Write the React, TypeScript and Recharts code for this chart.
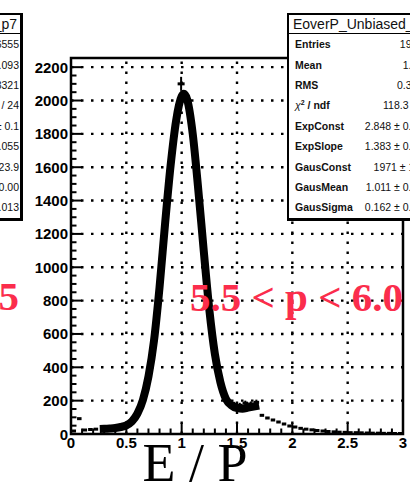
import React from 'react';
import { ComposedChart, Line, Scatter, XAxis, YAxis, ReferenceLine, ReferenceArea, ErrorBar } from 'recharts';

// axis ticks
const xMajor = [0, 0.5, 1, 1.5, 2, 2.5, 3];
const yMajor = [0, 200, 400, 600, 800, 1000, 1200, 1400, 1600, 1800, 2000, 2200];
const xTicks = Array.from({ length: 31 }, (_, i) => i / 10);
const yTicks = Array.from({ length: 45 }, (_, i) => i * 50);
const yMax = 2255;

// fit curve (gaus + exp)
const fitX = [0.26, 0.3, 0.35, 0.4, 0.45, 0.5, 0.55, 0.6, 0.65, 0.7, 0.75, 0.8, 0.85, 0.9, 0.95, 1.0, 1.02, 1.05, 1.1, 1.15, 1.2, 1.25, 1.3, 1.35, 1.4, 1.45, 1.5, 1.55, 1.6, 1.65, 1.7];
const fitY = [30, 31, 33, 36, 42, 52, 75, 122, 205, 345, 560, 880, 1260, 1610, 1880, 2025, 2040, 2005, 1800, 1466, 1095, 745, 480, 310, 210, 172, 155, 152, 158, 164, 170];

// histogram points outside the fit range
const lowX = [0.025, 0.075, 0.125, 0.175, 0.225];
const lowY = [18, 92, 24, 27, 29];
const tailX = [1.725, 1.775, 1.825, 1.875, 1.925, 1.975, 2.025, 2.075, 2.125, 2.175, 2.225, 2.275, 2.325, 2.375, 2.425, 2.475, 2.525, 2.575, 2.625, 2.675, 2.725, 2.775, 2.825, 2.875, 2.925, 2.975];
const tailY = [112, 96, 84, 72, 60, 48, 42, 34, 29, 25, 21, 18, 15, 13, 11, 10, 8, 8, 7, 6, 5, 5, 4, 4, 3, 3];

// points with visible error bars
const blobX = [1.425, 1.475, 1.525, 1.575, 1.625, 1.675];
const blobY = [192, 178, 172, 185, 180, 190];
const blobErr = [16, 15, 15, 15, 15, 16];
const peakX = [0.995];
const peakY = [2100];
const peakErr = [42];

// stats boxes
const statLabels = ['Entries', 'Mean', 'RMS', 'chi', 'ExpConst', 'ExpSlope', 'GausConst', 'GausMean', 'GausSigma'];
const rightValues = ['19655', '1.034', '0.3215', '118.3 / 27', '2.848 ± 0.054', '1.383 ± 0.031', '1971 ± 16.9', '1.011 ± 0.001', '0.162 ± 0.001'];
const leftValues = ['16555', '1.093', '0.3321', '101.7 / 24', '3.112 ± 0.1', '1.611 ± 0.055', '1523 ± 23.9', '1.008 ± 0.00', '0.159 ± 0.013'];

const fitData = fitX.map((x, i) => ({ x, y: fitY[i] }));
const lowData = lowX.map((x, i) => ({ x, y: lowY[i] }));
const tailData = tailX.map((x, i) => ({ x, y: tailY[i] }));
const blobData = blobX.map((x, i) => ({ x, y: blobY[i], err: blobErr[i] }));
const peakData = peakX.map((x, i) => ({ x, y: peakY[i], err: peakErr[i] }));

const sans = "'Liberation Sans', Arial, Helvetica, sans-serif";
const serif = "'Liberation Serif', 'Times New Roman', serif";
const red = '#fb2d4c';

const isMajor = (v: number, step: number) => Math.abs(v / step - Math.round(v / step)) < 1e-6;

const XTick = (props: any) => {
  const { x, y, payload } = props;
  const major = isMajor(payload.value, 0.5);
  return (
    <g>
      <line x1={x} x2={x} y1={y} y2={y - (major ? 11 : 5.5)} stroke="#000" strokeWidth={2} />
      {major && (
        <text x={x} y={y + 14} textAnchor="middle" fontSize={15} fontWeight="bold" fontFamily={sans} fill="#000">
          {String(payload.value)}
        </text>
      )}
    </g>
  );
};

const YTick = (props: any) => {
  const { x, y, payload } = props;
  const major = isMajor(payload.value, 200);
  return (
    <g>
      <line x1={x} x2={x + (major ? 11 : 5.5)} y1={y} y2={y} stroke="#000" strokeWidth={2} />
      {major && (
        <text x={x - 3} y={y + 5.5} textAnchor="end" fontSize={15} fontWeight="bold" fontFamily={sans} fill="#000">
          {String(payload.value)}
        </text>
      )}
    </g>
  );
};

const Dash = (w: number) => (props: any) => {
  const { cx, cy } = props;
  if (cx == null || cy == null) return <g />;
  return <rect x={cx - w / 2} y={cy - 1.5} width={w} height={3} fill="#000" />;
};

function StatBox({ left, width, title, values, align }: { left: number; width: number; title: string; values: string[]; align: 'left' | 'right' }) {
  return (
    <div
      style={{
        position: 'absolute',
        left,
        top: 13,
        width,
        height: 203,
        background: '#fff',
        borderStyle: 'solid',
        borderColor: '#000',
        borderWidth: '2px 3px 3px 2px',
        fontFamily: sans,
        color: '#111',
      }}
    >
      <div
        style={{
          height: 18,
          lineHeight: '18px',
          fontSize: 14,
          borderBottom: '1.5px solid #000',
          textAlign: align,
          paddingLeft: align === 'left' ? 4 : 0,
          paddingRight: align === 'right' ? 3 : 0,
          whiteSpace: 'nowrap',
        }}
      >
        {title}
      </div>
      {statLabels.map((lab, i) => (
        <div
          key={lab}
          style={{
            height: 20.4,
            display: 'flex',
            alignItems: 'center',
            justifyContent: 'space-between',
            padding: align === 'left' ? '0 10px 0 6px' : '0 1px 0 6px',
            fontSize: 10.5,
            whiteSpace: 'nowrap',
          }}
        >
          <span style={{ fontWeight: 'bold' }}>
            {lab === 'chi' ? (
              <>
                <i style={{ fontWeight: 'normal' }}>χ</i>
                <sup style={{ fontSize: 7, lineHeight: 0 }}>2</sup> / ndf
              </>
            ) : (
              lab
            )}
          </span>
          <span>{values[i]}</span>
        </div>
      ))}
    </div>
  );
}

export default function App() {
  return (
    <div style={{ position: 'absolute', left: 0, top: 0, width: 410, height: 491, overflow: 'hidden', background: '#fff' }}>
      <ComposedChart width={410} height={491} margin={{ top: 58, right: 7, bottom: 0, left: 0 }} style={{ fontFamily: sans }}>
        <XAxis
          type="number"
          dataKey="x"
          domain={[0, 3]}
          ticks={xTicks}
          interval={0}
          height={57}
          tickSize={0}
          tickMargin={0}
          axisLine={false}
          tick={<XTick />}
          allowDataOverflow
        />
        <YAxis
          type="number"
          dataKey="y"
          domain={[0, yMax]}
          ticks={yTicks}
          interval={0}
          width={71}
          tickSize={0}
          tickMargin={0}
          axisLine={false}
          tick={<YTick />}
          allowDataOverflow
        />
        {xMajor.slice(1, -1).map((v) => (
          <ReferenceLine key={'gx' + v} x={v} stroke="#000" strokeWidth={2.4} strokeDasharray="2.5 7.5" />
        ))}
        {yMajor.slice(1).map((v) => (
          <ReferenceLine key={'gy' + v} y={v} stroke="#000" strokeWidth={2.4} strokeDasharray="2.5 7.5" />
        ))}
        <Scatter data={lowData} shape={Dash(4.5)} isAnimationActive={false} />
        <Scatter data={tailData} shape={Dash(4.5)} isAnimationActive={false} />
        <Scatter data={blobData} shape={Dash(5.5)} isAnimationActive={false}>
          <ErrorBar dataKey="err" direction="y" width={0} stroke="#000" strokeWidth={2} isAnimationActive={false} />
        </Scatter>
        <Line
          data={fitData}
          dataKey="y"
          type="monotone"
          stroke="#000"
          strokeWidth={8}
          strokeLinejoin="round"
          dot={false}
          activeDot={false}
          isAnimationActive={false}
        />
        <Scatter data={peakData} shape={Dash(7)} isAnimationActive={false}>
          <ErrorBar dataKey="err" direction="y" width={0} stroke="#000" strokeWidth={2} isAnimationActive={false} />
        </Scatter>
        <ReferenceArea x1={0} x2={3} y1={0} y2={yMax} fill="none" stroke="#000" strokeWidth={2.5} />
      </ComposedChart>

      <svg width={410} height={491} style={{ position: 'absolute', left: 0, top: 0, pointerEvents: 'none' }}>
        <text x={19} y={310} textAnchor="end" fontFamily={serif} fontWeight="bold" fontSize={41} fill={red}>
          5.0 &lt; p &lt; 5.5
        </text>
        <text x={190} y={311} fontFamily={serif} fontWeight="bold" fontSize={41} fill={red}>
          5.5 &lt; p &lt; 6.0
        </text>
        <text x={195} y={481} textAnchor="middle" fontFamily={serif} fontSize={54} fill="#000">
          E / P
        </text>
      </svg>

      <StatBox left={-132} width={150} title="EoverP_Unbiased_p7" values={leftValues} align="right" />
      <StatBox left={287} width={150} title="EoverP_Unbiased_p8" values={rightValues} align="left" />
    </div>
  );
}
